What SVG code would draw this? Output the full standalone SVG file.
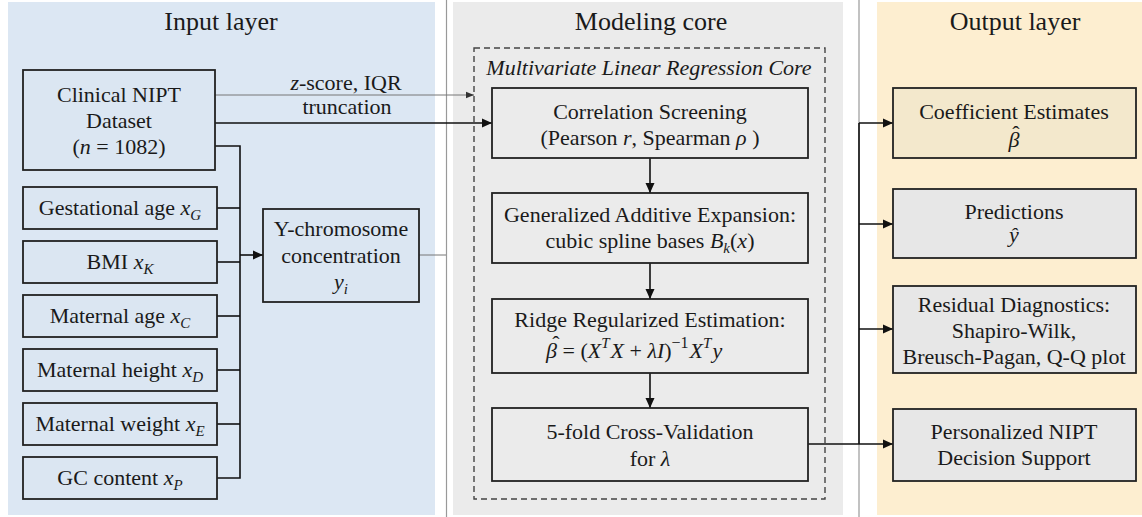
<svg xmlns="http://www.w3.org/2000/svg" width="1142" height="517" viewBox="0 0 1142 517" font-family="Liberation Serif">
<defs>
<marker id="ah" viewBox="0 0 10 10" refX="10" refY="5" markerWidth="10" markerHeight="10" markerUnits="userSpaceOnUse" orient="auto"><path d="M0,0.5 L10,5 L0,9.5 Z" fill="#111"/></marker>
<marker id="ahg" viewBox="0 0 10 10" refX="10" refY="5" markerWidth="9" markerHeight="8" markerUnits="userSpaceOnUse" orient="auto"><path d="M0,1 L10,5 L0,9 Z" fill="#333"/></marker>
</defs>
<style>
text{fill:#1a1a1a;font-size:22px;text-anchor:middle}
.hd{font-size:26px}
.i{font-style:italic}
.sub{font-style:italic;font-size:15px}
.st{text-anchor:start}
.box{stroke:#222;stroke-width:1.8}
.in{fill:#dbe6f2}
.mc{fill:#ebebeb}
.oy{fill:#f3e8cc}
.og{fill:#e7e7e7}
.c{fill:none;stroke:#111;stroke-width:1.6}
.cg{fill:none;stroke:#777;stroke-width:1}
</style>
<rect width="1142" height="517" fill="#ffffff"/>
<g id="panels">
<rect x="8" y="2" width="427" height="513" fill="#dce7f3"/>
<rect x="453" y="2" width="390" height="513" fill="#ebebeb"/>
<rect x="877" y="2" width="265" height="513" fill="#fdeed0"/>
<line x1="446.5" y1="0" x2="446.5" y2="517" stroke="#999" stroke-width="1.2"/>
<line x1="859" y1="0" x2="859" y2="517" stroke="#999" stroke-width="1.2"/>
<text class="hd" x="221" y="30" font-family="Liberation Serif">Input layer</text>
<text class="hd" x="651" y="30" font-family="Liberation Serif">Modeling core</text>
<text class="hd" x="1015" y="30" font-family="Liberation Serif">Output layer</text>
<rect x="474" y="48" width="351" height="451" fill="none" stroke="#444" stroke-width="1.4" stroke-dasharray="6 4"/>
<text class="i" x="649" y="75" font-family="Liberation Serif">Multivariate Linear Regression Core</text>
</g>
<g id="connectors">
<line class="cg" x1="215" y1="95" x2="474" y2="95" marker-end="url(#ahg)"/>
<text x="346" y="90" font-family="Liberation Serif"><tspan class="i">z</tspan>-score, IQR</text>
<text x="347" y="114" font-family="Liberation Serif">truncation</text>
<line class="c" x1="215" y1="123" x2="492" y2="123" marker-end="url(#ah)"/>
<polyline class="c" points="215,146 240,146 240,478 217,478"/>
<line class="c" x1="217" y1="208" x2="240" y2="208"/>
<line class="c" x1="217" y1="262" x2="240" y2="262"/>
<line class="c" x1="217" y1="316" x2="240" y2="316"/>
<line class="c" x1="217" y1="370" x2="240" y2="370"/>
<line class="c" x1="217" y1="424" x2="240" y2="424"/>
<line class="c" x1="240" y1="255" x2="263" y2="255" marker-end="url(#ah)"/>
<line class="cg" x1="419" y1="255" x2="446" y2="255"/>
<line class="c" x1="650" y1="158" x2="650" y2="193" marker-end="url(#ah)"/>
<line class="c" x1="650" y1="263" x2="650" y2="299" marker-end="url(#ah)"/>
<line class="c" x1="650" y1="373" x2="650" y2="408" marker-end="url(#ah)"/>
<line class="c" x1="808" y1="444" x2="893" y2="444" marker-end="url(#ah)"/>
<line class="c" x1="859" y1="123" x2="859" y2="444"/>
<line class="c" x1="859" y1="123" x2="893" y2="123" marker-end="url(#ah)"/>
<line class="c" x1="859" y1="224" x2="893" y2="224" marker-end="url(#ah)"/>
<line class="c" x1="859" y1="329" x2="893" y2="329" marker-end="url(#ah)"/>
</g>
<g id="n-dataset"><rect class="box in" x="23" y="70" width="192" height="100"/>
<text x="119" y="102" font-family="Liberation Serif">Clinical NIPT</text><text x="119" y="128" font-family="Liberation Serif">Dataset</text><text x="119" y="154" font-family="Liberation Serif">(<tspan class="i">n</tspan> = 1082)</text></g>
<g id="n-ga"><rect class="box in" x="23" y="187" width="194" height="42"/>
<text x="120" y="215" font-family="Liberation Serif">Gestational age <tspan class="i">x</tspan><tspan class="sub" dy="5">G</tspan></text></g>
<g id="n-bmi"><rect class="box in" x="23" y="241" width="194" height="42"/>
<text x="120" y="269" font-family="Liberation Serif">BMI <tspan class="i">x</tspan><tspan class="sub" dy="5">K</tspan></text></g>
<g id="n-mage"><rect class="box in" x="23" y="295" width="194" height="42"/>
<text x="120" y="323" font-family="Liberation Serif">Maternal age <tspan class="i">x</tspan><tspan class="sub" dy="5">C</tspan></text></g>
<g id="n-mh"><rect class="box in" x="23" y="349" width="194" height="42"/>
<text x="120" y="377" font-family="Liberation Serif">Maternal height <tspan class="i">x</tspan><tspan class="sub" dy="5">D</tspan></text></g>
<g id="n-mw"><rect class="box in" x="23" y="403" width="194" height="42"/>
<text x="120" y="431" font-family="Liberation Serif">Maternal weight <tspan class="i">x</tspan><tspan class="sub" dy="5">E</tspan></text></g>
<g id="n-gc"><rect class="box in" x="23" y="457" width="194" height="42"/>
<text x="120" y="485" font-family="Liberation Serif">GC content <tspan class="i">x</tspan><tspan class="sub" dy="5">P</tspan></text></g>
<g id="n-y"><rect class="box in" x="263" y="209" width="156" height="93"/>
<text x="341" y="236" font-family="Liberation Serif">Y-chromosome</text><text x="341" y="263" font-family="Liberation Serif">concentration</text><text x="341" y="289" font-family="Liberation Serif"><tspan class="i">y</tspan><tspan class="sub" dy="5">i</tspan></text></g>
<g id="n-corr"><rect class="box mc" x="492" y="88" width="316" height="70"/>
<text x="650" y="119" font-family="Liberation Serif">Correlation Screening</text><text x="650" y="145" font-family="Liberation Serif">(Pearson <tspan class="i">r</tspan>, Spearman <tspan class="i">ρ</tspan> )</text></g>
<g id="n-gam"><rect class="box mc" x="492" y="193" width="316" height="70"/>
<text x="650" y="222" font-family="Liberation Serif">Generalized Additive Expansion:</text><text x="650" y="248" font-family="Liberation Serif">cubic spline bases <tspan class="i">B</tspan><tspan class="sub" dy="5">k</tspan><tspan dy="-5">(</tspan><tspan class="i">x</tspan>)</text></g>
<g id="n-ridge"><rect class="box mc" x="492" y="299" width="316" height="74"/>
<text x="650" y="327" font-family="Liberation Serif">Ridge Regularized Estimation:</text>
<text class="st" x="546" y="358" font-size="24" font-family="Liberation Serif"><tspan class="i">β</tspan> = (<tspan class="i">X</tspan><tspan class="sub" font-size="16" dy="-10">T</tspan><tspan class="i" dy="10" dx="1">X</tspan> + <tspan class="i">λI</tspan>)<tspan font-size="16" dy="-10">−1</tspan><tspan class="i" dy="10" dx="1">X</tspan><tspan class="sub" font-size="16" dy="-10">T</tspan><tspan class="i" dy="10" dx="1">y</tspan></text>
<text x="556" y="351" font-size="23" font-family="Liberation Serif">ˆ</text></g>
<g id="n-cv"><rect class="box mc" x="492" y="408" width="316" height="73"/>
<text x="650" y="439" font-family="Liberation Serif">5-fold Cross-Validation</text><text x="650" y="466" font-family="Liberation Serif">for <tspan class="i">λ</tspan></text></g>
<g id="n-coef"><rect class="box oy" x="893" y="88" width="243" height="70"/>
<text x="1014" y="119" font-family="Liberation Serif">Coefficient Estimates</text><text class="i" x="1014" y="147" font-size="23" font-family="Liberation Serif">β</text><text x="1016" y="141" font-size="23" font-family="Liberation Serif">ˆ</text></g>
<g id="n-pred"><rect class="box og" x="893" y="189" width="243" height="69"/>
<text x="1014" y="219" font-family="Liberation Serif">Predictions</text><text class="i" x="1014" y="242" font-size="23" font-family="Liberation Serif">ŷ</text></g>
<g id="n-resid"><rect class="box og" x="893" y="286" width="243" height="87"/>
<text x="1014" y="312" font-family="Liberation Serif">Residual Diagnostics:</text><text x="1014" y="338" font-family="Liberation Serif">Shapiro-Wilk,</text><text x="1014" y="364" font-family="Liberation Serif">Breusch-Pagan, Q-Q plot</text></g>
<g id="n-pers"><rect class="box og" x="893" y="409" width="243" height="72"/>
<text x="1014" y="439" font-family="Liberation Serif">Personalized NIPT</text><text x="1014" y="465" font-family="Liberation Serif">Decision Support</text></g>
</svg>
